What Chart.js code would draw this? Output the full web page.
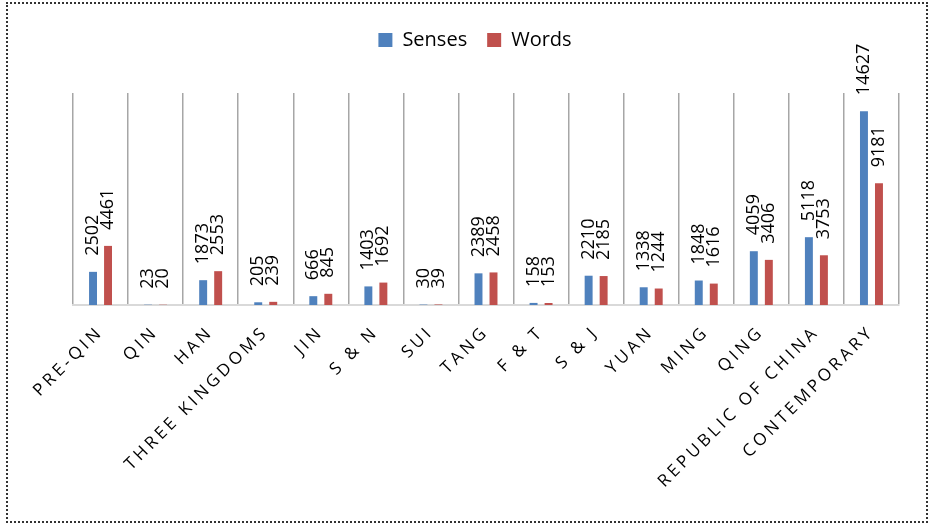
<!DOCTYPE html>
<html>
<head>
<meta charset="utf-8">
<title>Senses and Words by Period</title>
<script src="https://cdn.jsdelivr.net/npm/chart.js@4"></script>
<style>
  html, body { margin: 0; padding: 0; background: #fff; }
  #wrap { position: relative; width: 931px; height: 523px; }
  #frame {
    position: absolute; left: 6px; top: 2px; width: 922px; height: 521px;
    box-sizing: border-box; border: 2px dotted #333; pointer-events: none;
  }
  canvas { position: absolute; left: 0; top: 0; }
</style>
</head>
<body>
<div id="wrap">
  <canvas id="chart" width="931" height="523"></canvas>
  <div id="frame"></div>
</div>
<script>
// periods along the x axis
const periods = [
  'PRE-QIN', 'QIN', 'HAN', 'THREE KINGDOMS', 'JIN', 'S & N', 'SUI', 'TANG',
  'F & T', 'S & J', 'YUAN', 'MING', 'QING', 'REPUBLIC OF CHINA', 'CONTEMPORARY'
];
const senses = [2502, 23, 1873, 205, 666, 1403, 30, 2389, 158, 2210, 1338, 1848, 4059, 5118, 14627];
const words  = [4461, 20, 2553, 239, 845, 1692, 39, 2458, 153, 2185, 1244, 1616, 3406, 3753, 9181];

const yMax = 16000;

Chart.defaults.font.family = '"Open Sans", sans-serif';
Chart.defaults.color = '#000';

// leave a gap between the legend and the plot
const legendGap = {
  id: 'legendGap',
  beforeLayout(chart) {
    const legend = chart.legend;
    if (!legend || legend._gapAdded) return;
    const fit = legend.fit;
    legend.fit = function () {
      fit.call(this);
      this.height += 33;
    };
    legend._gapAdded = true;
  }
};

// vertical value labels above each bar
const valueLabels = {
  id: 'valueLabels',
  afterDatasetsDraw(chart) {
    const ctx = chart.ctx;
    ctx.save();
    ctx.font = '18px "Open Sans"';
    ctx.fillStyle = '#000';
    ctx.textAlign = 'left';
    ctx.textBaseline = 'middle';
    chart.data.datasets.forEach((ds, i) => {
      chart.getDatasetMeta(i).data.forEach((bar, j) => {
        ctx.save();
        ctx.translate(bar.x, bar.y - 16);
        ctx.rotate(-Math.PI / 2);
        ctx.fillText(String(ds.data[j]), 0, 0);
        ctx.restore();
      });
    });
    ctx.restore();
    // category labels (z: 1) are drawn right after this, spaced out
    ctx.letterSpacing = '3.5px';
  },
  afterDraw(chart) {
    chart.ctx.letterSpacing = '0px';
  }
};

new Chart(document.getElementById('chart'), {
  type: 'bar',
  data: {
    labels: periods,
    datasets: [
      { label: 'Senses', data: senses, backgroundColor: '#4f81bd' },
      { label: 'Words', data: words, backgroundColor: '#c0504d' }
    ]
  },
  options: {
    responsive: false,
    animation: false,
    layout: { padding: { left: 51, right: 32, top: 10, bottom: 0 } },
    datasets: {
      bar: { categoryPercentage: 0.545, barPercentage: 0.53 }
    },
    plugins: {
      legend: {
        position: 'top',
        labels: {
          boxWidth: 14,
          boxHeight: 14,
          padding: 20,
          color: '#000',
          font: { size: 20 }
        }
      },
      tooltip: { enabled: false }
    },
    scales: {
      x: {
        grid: { color: '#a6a6a6', lineWidth: 1.5, drawTicks: false },
        border: { color: '#d9d9d9', width: 2 },
        ticks: {
          z: 1,
          autoSkip: false,
          minRotation: 45,
          maxRotation: 45,
          padding: 17,
          color: '#000',
          font: { size: 17 }
        },
        afterFit(scale) {
          scale.height = 218;
          scale.paddingLeft = 0;
          scale.paddingRight = 0;
        }
      },
      y: {
        min: 0,
        max: yMax,
        grid: { display: false },
        border: { display: false },
        ticks: { display: false },
        afterFit(scale) {
          scale.width = 22;
        }
      }
    }
  },
  plugins: [legendGap, valueLabels]
});
</script>
</body>
</html>
